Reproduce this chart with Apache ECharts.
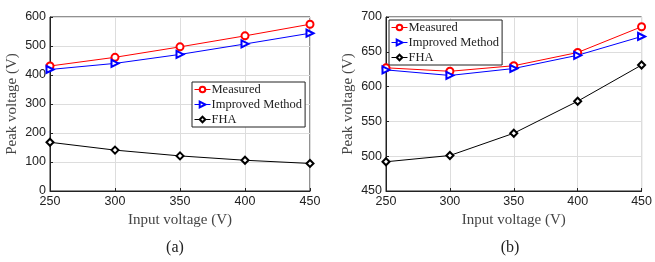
<!DOCTYPE html>
<html>
<head>
<meta charset="utf-8">
<script src="https://cdn.jsdelivr.net/npm/echarts@6/dist/echarts.min.js"></script>
<style>
  html, body { margin: 0; padding: 0; background: #fff; }
  #main { width: 655px; height: 262px; }
</style>
</head>
<body>
<div id="main"></div>
<script>
// input voltage (V)
const inputV = [250, 300, 350, 400, 450]

// panel (a)
const measuredA = [431, 461, 497, 535, 575]
const improvedA = [419, 440, 471, 507, 544]
const fhaA = [168, 141, 121, 106, 95]

// panel (b)
const measuredB = [627, 622, 630, 649, 686]
const improvedB = [624, 616, 626, 645, 672]
const fhaB = [492, 501, 533, 579, 631]

const seriesNames = ['Measured', 'Improved Method', 'FHA']
const serif = '"Liberation Serif", "DejaVu Serif", serif'
const sans = '"Liberation Sans", Arial, sans-serif'

const chart = echarts.init(document.getElementById('main'))

function pairs (ys) {
  return inputV.map((x, i) => [x, ys[i]])
}

function xAxisFor (gridIndex) {
  return {
    type: 'value', gridIndex: gridIndex, min: 250, max: 450, interval: 50,
    name: 'Input voltage (V)', nameLocation: 'middle', nameGap: 20,
    nameTextStyle: { fontFamily: serif, fontSize: 15, color: '#444' },
    axisLine: { onZero: false, lineStyle: { color: '#222' } },
    axisTick: { inside: true, length: 3, lineStyle: { color: '#222' } },
    axisLabel: { fontFamily: sans, fontSize: 12.5, color: '#222', margin: 4 },
    splitLine: { show: true, lineStyle: { color: '#ddd' } }
  }
}

function yAxisFor (gridIndex, min, max, interval) {
  return {
    type: 'value', gridIndex: gridIndex, min: min, max: max, interval: interval,
    name: 'Peak voltage (V)', nameLocation: 'middle', nameGap: 30,
    nameTextStyle: { fontFamily: serif, fontSize: 15, color: '#444' },
    axisLine: { show: true, lineStyle: { color: '#222' } },
    axisTick: { show: true, inside: true, length: 3, lineStyle: { color: '#222' } },
    axisLabel: { fontFamily: sans, fontSize: 12.5, color: '#222', margin: 4 },
    splitLine: { show: true, lineStyle: { color: '#ddd' } }
  }
}

function lineSeries (name, idx, ys, color, symbol, rotate) {
  return {
    name: name, type: 'line', xAxisIndex: idx, yAxisIndex: idx,
    data: pairs(ys), symbol: symbol, symbolSize: 7, symbolRotate: rotate || 0,
    showAllSymbol: true,
    lineStyle: { color: color, width: 1 },
    itemStyle: { color: color, borderColor: color, borderWidth: 1 },
    animation: false
  }
}

function legendFor (left, top) {
  return {
    show: true,
    data: seriesNames,
    left: left, top: top, orient: 'vertical',
    backgroundColor: '#fff', borderColor: '#222', borderWidth: 1,
    padding: [1, 3, 1, 2], itemGap: 2, itemWidth: 16, itemHeight: 7,
    itemStyle: { borderWidth: 1 },
    lineStyle: { width: 1 },
    textStyle: { fontFamily: serif, fontSize: 12.5, color: '#222', padding: [0, 0, 0, -4] },
    selectedMode: false
  }
}

const option = {
  backgroundColor: '#fff',
  animation: false,
  grid: [
    { left: 50, right: 345, top: 17, bottom: 71, show: true, borderColor: '#222', borderWidth: 1, backgroundColor: 'transparent' },
    { left: 386, right: 10, top: 17, bottom: 71, show: true, borderColor: '#222', borderWidth: 1, backgroundColor: 'transparent' }
  ],
  xAxis: [xAxisFor(0), xAxisFor(1)],
  yAxis: [yAxisFor(0, 0, 600, 100), yAxisFor(1, 450, 700, 50)],
  legend: [legendFor(192, 82), legendFor(389, 20)],
  title: [
    { text: '(a)', left: 170, top: 235, textAlign: 'center', textStyle: { fontFamily: serif, fontSize: 16, fontWeight: 'normal', color: '#222' } },
    { text: '(b)', left: 505, top: 235, textAlign: 'center', textStyle: { fontFamily: serif, fontSize: 16, fontWeight: 'normal', color: '#222' } }
  ],
  series: [
    lineSeries('Measured', 0, measuredA, '#ff0000', 'emptyCircle'),
    lineSeries('Improved Method', 0, improvedA, '#0000ff', 'emptyTriangle', -90),
    lineSeries('FHA', 0, fhaA, '#000000', 'emptyDiamond'),
    lineSeries('Measured', 1, measuredB, '#ff0000', 'emptyCircle'),
    lineSeries('Improved Method', 1, improvedB, '#0000ff', 'emptyTriangle', -90),
    lineSeries('FHA', 1, fhaB, '#000000', 'emptyDiamond')
  ]
}

chart.setOption(option)
</script>
</body>
</html>
